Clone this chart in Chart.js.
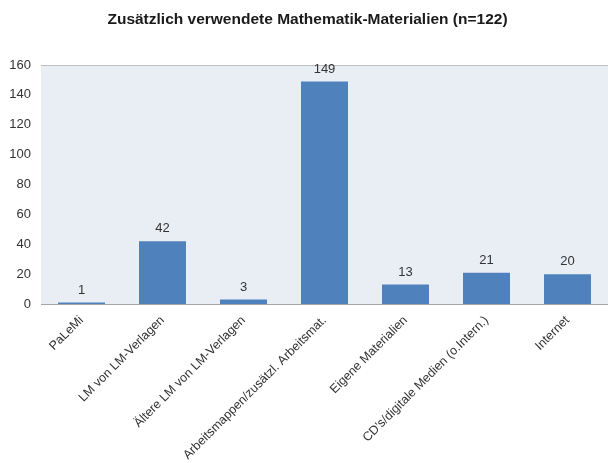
<!DOCTYPE html>
<html><head><meta charset="utf-8">
<script src="https://cdn.jsdelivr.net/npm/chart.js@4/dist/chart.umd.min.js"></script>
<style>html,body{margin:0;padding:0;background:#fff;}#wrap{width:608px;height:463px;}</style>
</head><body><div id="wrap"><canvas id="c"></canvas></div>
<script>
const categories = ["PaLeMi","LM von LM-Verlagen","Ältere LM von LM-Verlagen","Arbeitsmappen/zusätzl. Arbeitsmat.","Eigene Materialien","CD's/digitale Medien (o.Intern.)","Internet"];
const values = [1,42,3,149,13,21,20];
const yTicks = [0,20,40,60,80,100,120,140,160];
const titleText = "Zusätzlich verwendete Mathematik-Materialien (n=122)";
const FONT = '"Liberation Sans", Arial, sans-serif';

const plotDeco = {
  id:'plotDeco',
  beforeDatasetsDraw(chart){
    const {ctx, chartArea:a} = chart;
    ctx.save();
    ctx.fillStyle = '#E9EDF4';
    ctx.fillRect(a.left, a.top, a.right-a.left, a.bottom-a.top);
    ctx.strokeStyle = '#BFBFBF';
    ctx.lineWidth = 1;
    ctx.beginPath();
    ctx.moveTo(a.left, a.top+0.5); ctx.lineTo(a.right, a.top+0.5);
    ctx.stroke();
    ctx.restore();
  },
  afterDatasetsDraw(chart){
    const {ctx} = chart;
    const meta = chart.getDatasetMeta(0);
    ctx.save();
    ctx.font = '13px ' + FONT;
    ctx.fillStyle = '#333333';
    ctx.textAlign = 'center';
    ctx.textBaseline = 'bottom';
    meta.data.forEach((bar,i)=>{
      ctx.fillText(String(values[i]), bar.x, bar.y - 6);
    });
    ctx.restore();
  }
};

new Chart(document.getElementById('c'), {
  type:'bar',
  data:{labels:categories, datasets:[{data:values, backgroundColor:'#4F81BD', borderWidth:0, barPercentage:0.58, categoryPercentage:1}]},
  options:{
    responsive:true, maintainAspectRatio:false, animation:false,
    layout:{padding:{top:0,left:0,right:-7,bottom:0}},
    plugins:{
      legend:{display:false}, tooltip:{enabled:false},
      title:{display:true, text:titleText, color:'#1a1a1a', font:{family:FONT, size:15.5, weight:'bold'}, padding:{top:10,bottom:36.4}}
    },
    scales:{
      x:{
        grid:{display:false, drawTicks:false},
        border:{display:true, color:'#A6A6A6'},
        ticks:{color:'#333333', font:{family:FONT, size:12.5}, minRotation:45, maxRotation:45, autoSkip:false, padding:9},
        afterFit(s){ s.height = 159; }
      },
      y:{
        min:0, max:160,
        afterBuildTicks(s){ s.ticks = yTicks.map(v=>({value:v})); },
        grid:{display:false, drawTicks:false},
        border:{display:true, color:'#A6A6A6'},
        ticks:{color:'#333333', font:{family:FONT, size:13}, padding:10},
        afterFit(s){ s.width = 41; }
      }
    }
  },
  plugins:[plotDeco]
});
</script></body></html>
